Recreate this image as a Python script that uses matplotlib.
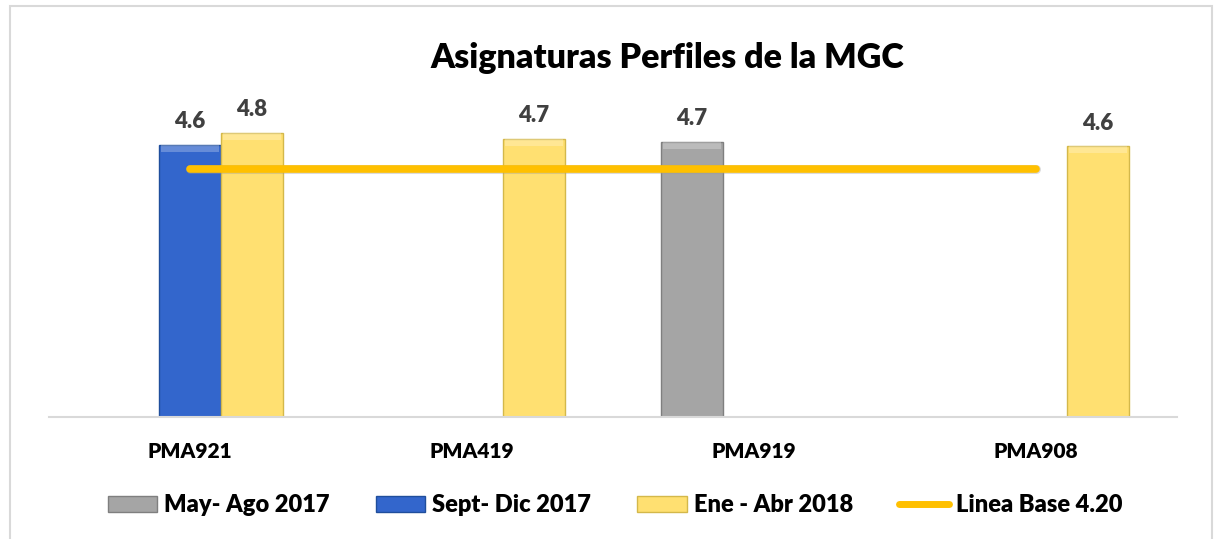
import numpy as np
import matplotlib
matplotlib.use('Agg')
import matplotlib.pyplot as plt
from matplotlib.patches import Rectangle, Patch
from matplotlib.lines import Line2D

plt.rcParams['font.family'] = ['Lato', 'DejaVu Sans']
plt.rcParams['font.weight'] = 'heavy'

categories = ['PMA921', 'PMA419', 'PMA919', 'PMA908']
series_names = ['May- Ago 2017', 'Sept- Dic 2017', 'Ene - Abr 2018']
# None = no bar for that period
may_ago_2017 = [None, None, 4.65, None]
sept_dic_2017 = [4.6, None, None, None]
ene_abr_2018 = [4.8, 4.7, None, 4.58]
linea_base = 4.20

colors = ['#a5a5a5', '#3366cc', '#ffe071']
edges = ['#7f7f7f', '#1f4e9c', '#d4b84a']
line_color = '#ffc000'
W = 'heavy'

fig = plt.figure(figsize=(12.17, 5.39), dpi=100)
ax = fig.add_axes([49/1217, 122/539, 1128/1217, 355/539])

x = np.arange(len(categories))
width = 0.223
offsets = [-0.22, 0, 0.22]
all_series = [may_ago_2017, sept_dic_2017, ene_abr_2018]

for s, vals in enumerate(all_series):
    for i, v in enumerate(vals):
        if v is None:
            continue
        xi = x[i] + offsets[s]
        ax.bar(xi, v, width=width, color=colors[s], edgecolor=edges[s], linewidth=1, zorder=2)
        # light bevel on top
        ax.bar(xi, 0.12, bottom=v - 0.12, width=width * 0.92, color='white', alpha=0.25,
               linewidth=0, zorder=3)
        ax.annotate('%.1f' % v, (xi, v), xytext=(0, 9), textcoords='offset points',
                    ha='center', va='bottom', fontsize=16, fontweight=W, color='#404040')

# baseline series across categories
ax.plot([x[0], x[-1]], [linea_base, linea_base], color='#999999', alpha=0.35, lw=6.5,
        solid_capstyle='round', zorder=3)
ax.plot([x[0], x[-1]], [linea_base, linea_base], color=line_color, lw=5.5,
        solid_capstyle='round', zorder=4)

ax.set_xlim(-0.5, len(categories) - 0.5)
ax.set_ylim(0, 6)
ax.set_xticks(x)
ax.set_xticklabels(categories, fontsize=15, fontweight=W, color='black')
ax.tick_params(axis='x', length=0, pad=18)
ax.set_yticks([])
for sp in ['top', 'right', 'left']:
    ax.spines[sp].set_visible(False)
ax.spines['bottom'].set_color('#d9d9d9')
ax.spines['bottom'].set_linewidth(1.5)

fig.text(667/1217, 1 - 58/539, 'Asignaturas Perfiles de la MGC', ha='center', va='center',
         fontsize=24.5, fontweight=W, color='black')

handles = [Patch(facecolor=colors[i], edgecolor=edges[i], label=series_names[i]) for i in range(3)]
handles.append(Line2D([0], [0], color=line_color, lw=5, solid_capstyle='round', label='Linea Base 4.20'))
fig.legend(handles=handles, loc='center', bbox_to_anchor=(615/1217, 1 - 505/539), ncol=4,
           frameon=False, handlelength=2.1, handleheight=0.65,
           handletextpad=0.3, columnspacing=1.95, prop={'weight': W, 'size': 17})

# chart border
fig.patches.append(Rectangle((10/1217, -0.02), 1202/1217, 1 - 6/539 + 0.02, transform=fig.transFigure,
                             fill=False, edgecolor='#d9d9d9', linewidth=1.5))

fig.savefig('out.png', dpi=100)
